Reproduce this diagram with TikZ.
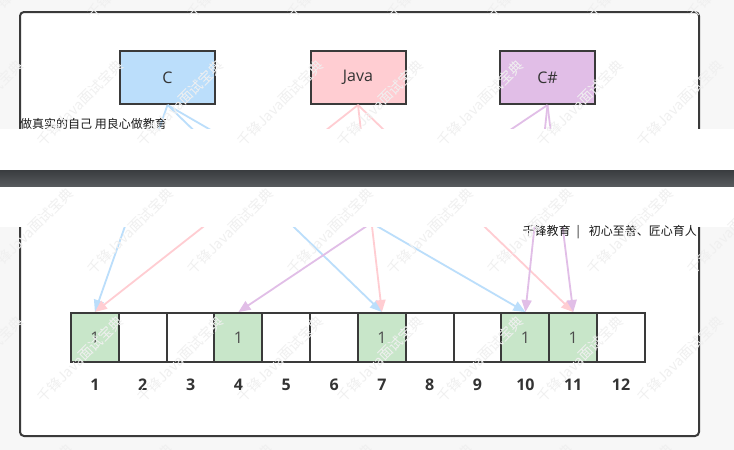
\documentclass[tikz,border=0pt]{standalone}
\usepackage{fontspec}
\setmainfont{Open Sans}
\newfontfamily\cjk{Noto Sans CJK SC}
\usetikzlibrary{arrows.meta}

\definecolor{pageGray}{HTML}{F7F7F7}
\definecolor{edgeGray}{HTML}{3A3A3A}
\definecolor{inkGray}{HTML}{333333}
\definecolor{cBlue}{HTML}{BBDEFB}
\definecolor{cPink}{HTML}{FFCDD2}
\definecolor{cPurple}{HTML}{E1BEE7}
\definecolor{cGreen}{HTML}{C8E6C9}
\definecolor{barTop}{HTML}{393C3F}
\definecolor{barBot}{HTML}{575A5D}

\tikzset{
  langbox/.style={draw=edgeGray, line width=2pt, minimum width=95pt,
    minimum height=53pt, inner sep=0pt, text=inkGray,
    font=\fontsize{16}{18}\selectfont},
  bitcell/.style={draw=edgeGray, line width=2pt, minimum width=47.83pt,
    minimum height=49pt, inner sep=0pt, text=black!70,
    font=\fontsize{16}{18}\selectfont},
  idx/.style={text=inkGray, font=\bfseries\fontsize{16}{18}\selectfont},
  hashline/.style={line width=1.8pt, -{Triangle[length=12pt,width=10pt]}},
  pagetext/.style={inner sep=0pt, text=black!90, font=\cjk\fontsize{12}{13}\selectfont},
  wmark/.style={rotate=45, text=black!6, font=\cjk\fontsize{14}{14}\selectfont},
}

\begin{document}
\begin{tikzpicture}[x=1pt, y=-1pt]

% Geometry
\def\cellx{71}       % left edge of the bit row
\def\cellw{47.83}    % width of one bit cell
\def\celly{337.5}    % centre line of the bit row

\useasboundingbox (0,0) rectangle (734,450);
\fill[pageGray] (0,0) rectangle (734,450);

% ── Outer frame ─────────────────────────────────────────────────────────
\filldraw[fill=white, draw=edgeGray, line width=2pt, rounded corners=4pt]
  (20,12) rectangle (699,436);

% ── Three inputs ────────────────────────────────────────────────────────
\node[langbox, fill=cBlue]   (boxC)    at (167.5,77.5) {C};
\node[langbox, fill=cPink]   (boxJava) at (358,77.5)   {Java};
\node[langbox, fill=cPurple] (boxCs)   at (547.5,77.5) {C\#};

% ── Bit array with its indices ──────────────────────────────────────────
\foreach \k/\bit in {1/1,2/0,3/0,4/1,5/0,6/0,7/1,8/0,9/0,10/1,11/1,12/0} {
  \ifnum\bit=1
    \node[bitcell, fill=cGreen] (c\k) at ({\cellx+\cellw*(\k-0.5)},\celly) {1};
  \else
    \node[bitcell] (c\k) at ({\cellx+\cellw*(\k-0.5)},\celly) {};
  \fi
  \node[idx] (n\k) at ({\cellx+\cellw*(\k-0.5)},385) {\k};
}

% ── Hash arrows (three per input) ───────────────────────────────────────
\foreach \src/\dst/\col in {
   boxC/c1/cBlue, boxC/c7/cBlue, boxC/c10/cBlue,
   boxJava/c1/cPink, boxJava/c7/cPink, boxJava/c11/cPink,
   boxCs/c4/cPurple, boxCs/c10/cPurple, boxCs/c11/cPurple%
} {
  \draw[hashline, color=\col] (\src.south) -- (\dst.north);
}

% ── Page break strip ────────────────────────────────────────────────────
\fill[white] (0,129) rectangle (734,227);
\node[pagetext, anchor=west] (footL) at (20,124) {做真实的自己 用良心做教育};
\node[pagetext, anchor=east] (headR) at (697,232)
  {千锋教育\hspace{6pt}|\hspace{9pt}初心至善、匠心育人};

% ── Watermark ───────────────────────────────────────────────────────────
\begin{scope}
  \clip (0,0) rectangle (734,450);
  \foreach \j in {0,...,4} {
    \foreach \i in {-1,...,7} {
      \pgfmathsetmacro\wx{30 + 50*mod(\j,2) + 100*\i}
      \pgfmathsetmacro\wy{-25 + 128*\j}
      \node[wmark] (wm-\i-\j) at (\wx,\wy) {千锋Java面试宝典};
    }
  }
\end{scope}

\shade[top color=barTop, bottom color=barBot] (0,170) rectangle (734,186);

\end{tikzpicture}
\end{document}
